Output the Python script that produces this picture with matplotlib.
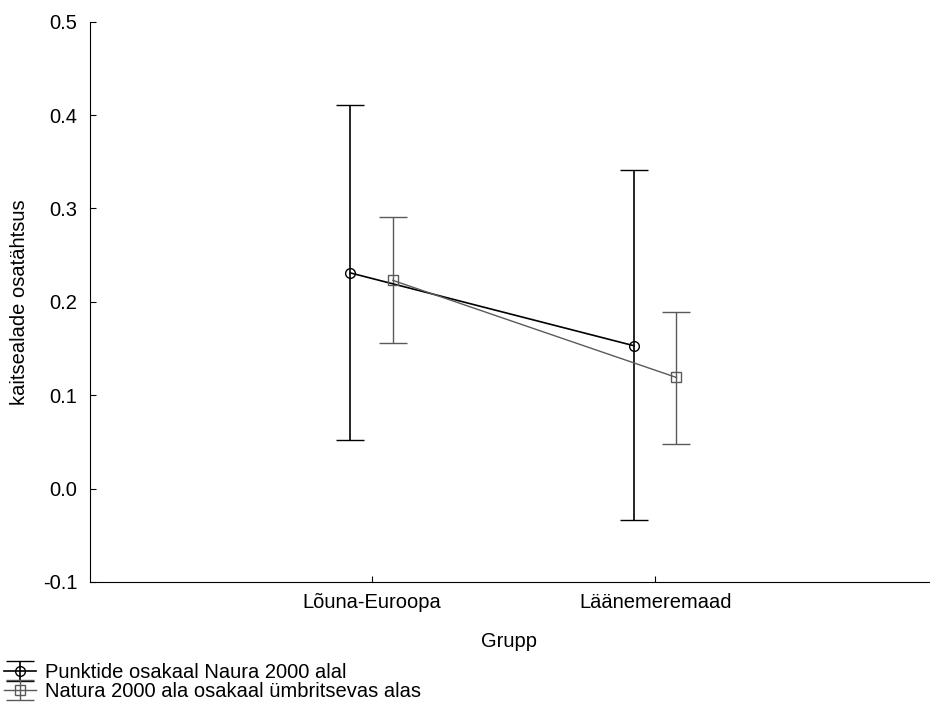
import numpy as np
import matplotlib
matplotlib.use('Agg')
import matplotlib.pyplot as plt

plt.rcParams['font.family'] = ['Liberation Sans', 'DejaVu Sans']

# andmed
groups = ['Lõuna-Euroopa', 'Läänemeremaad']
pts_mean = [0.231, 0.153]
pts_low = [0.052, -0.034]
pts_high = [0.411, 0.341]
nat_mean = [0.223, 0.119]
nat_low = [0.156, 0.048]
nat_high = [0.291, 0.189]
labels = ['Punktide osakaal Naura 2000 alal', 'Natura 2000 ala osakaal ümbritsevas alas']

x = np.arange(1, len(groups) + 1)
off = 0.075
fs = 14.5

fig = plt.figure(figsize=(9.3, 7.02), dpi=100)
ax = fig.add_axes([0.0968, 0.171, 0.902, 0.798])

pm = np.array(pts_mean)
nm = np.array(nat_mean)
e1 = ax.errorbar(x - off, pm, yerr=[pm - np.array(pts_low), np.array(pts_high) - pm],
                 color='black', marker='o', markersize=7, markerfacecolor='none',
                 markeredgewidth=1.0, linewidth=1.2, elinewidth=1.2, capsize=10, capthick=1.2)
e2 = ax.errorbar(x + off, nm, yerr=[nm - np.array(nat_low), np.array(nat_high) - nm],
                 color='#5a5a5a', marker='s', markersize=6.5, markerfacecolor='none',
                 markeredgewidth=1.0, linewidth=1.0, elinewidth=1.0, capsize=10, capthick=1.0)

ax.set_xlim(0.007, 2.965)
ax.set_ylim(-0.1, 0.5)
ax.set_yticks(np.arange(-0.1, 0.51, 0.1))
ax.set_yticklabels(['%.1f' % v for v in np.arange(-0.1, 0.51, 0.1)])
ax.set_xticks(x)
ax.set_xticklabels(groups)
ax.tick_params(direction='in', length=4, labelsize=fs)
ax.tick_params(axis='y', pad=9)
ax.tick_params(axis='x', pad=8)
ax.spines['top'].set_visible(False)
ax.spines['right'].set_visible(False)
ax.set_xlabel('Grupp', fontsize=fs, labelpad=14)
ax.set_ylabel('kaitsealade osatähtsus', fontsize=fs, labelpad=10)

fig.legend([e1, e2], labels, loc='lower left', bbox_to_anchor=(0.0, -0.004),
           frameon=False, fontsize=fs, handlelength=1.6, handletextpad=0.45,
           labelspacing=0.0, borderaxespad=0.0, borderpad=0.2)

plt.savefig('out.png', dpi=100)
plt.close()
